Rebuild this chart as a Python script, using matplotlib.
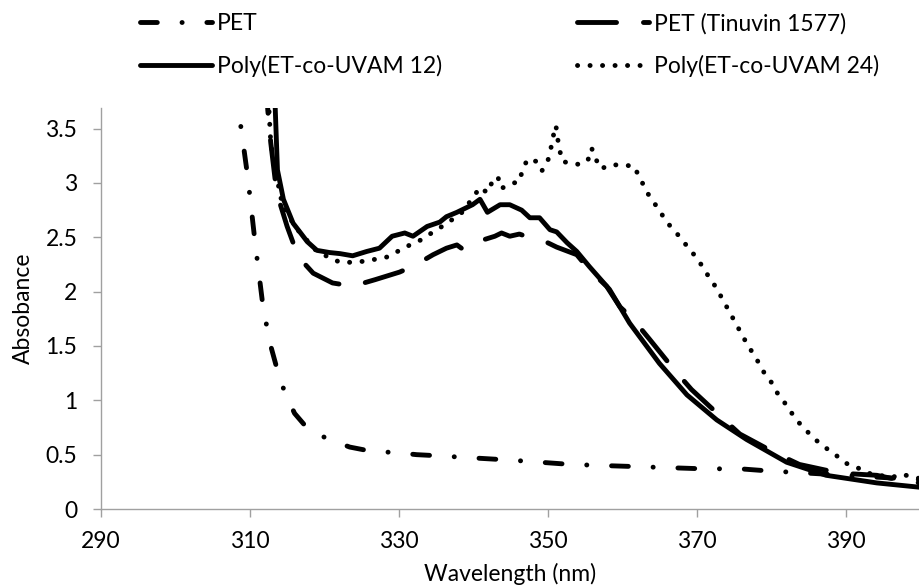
import matplotlib
matplotlib.use("Agg")
import matplotlib.pyplot as plt

plt.rcParams['font.family'] = ['Lato', 'DejaVu Sans']
plt.rcParams['lines.scale_dashes'] = False

# ---- data ----
pet_x = [308.2, 308.5, 309.7, 310.7, 311.8, 312.8, 313.8, 314.7, 316.0, 318.0, 320.7, 323.4,
         326.4, 329.5, 332.4, 335.2, 340.0, 345.0, 353.1, 357.4, 361.9, 366.4, 370.8,
         375.8, 379.7, 385.0, 390.0, 395.0, 400.0]
pet_y = [3.90, 3.66, 3.06, 2.45, 1.84, 1.50, 1.25, 1.07, 0.88, 0.72, 0.64, 0.57,
         0.53, 0.52, 0.50, 0.49, 0.47, 0.45, 0.41, 0.40, 0.39, 0.38, 0.37,
         0.37, 0.35, 0.33, 0.31, 0.29, 0.27]

tin_x = [312.2, 312.4, 312.8, 313.6, 315.0, 316.5, 318.5, 321.1, 323.8, 326.8, 330.1, 332.1,
         334.6, 336.4, 337.8, 338.6, 339.8, 341.5, 342.9, 343.8, 344.9, 346.2, 348.3, 350.0,
         351.2, 353.9, 355.6, 357.9, 359.7, 361.3, 363.7, 367.0, 369.3, 373.4, 375.8, 380.7,
         383.8, 389.2, 394.2, 397.7, 400.0]
tin_y = [4.00, 3.67, 3.37, 2.91, 2.60, 2.32, 2.17, 2.08, 2.05, 2.11, 2.18, 2.24,
         2.34, 2.40, 2.43, 2.39, 2.45, 2.48, 2.51, 2.54, 2.51, 2.53, 2.48, 2.45,
         2.41, 2.34, 2.20, 2.05, 1.86, 1.76, 1.56, 1.28, 1.10, 0.84, 0.69, 0.51,
         0.41, 0.33, 0.31, 0.26, 0.24]

p12_x = [313.0, 313.4, 313.7, 314.5, 315.8, 316.7, 317.7, 319.0, 320.7, 322.1, 323.8, 325.7,
         327.4, 329.1, 330.8, 331.9, 333.8, 335.5, 336.4, 337.8, 339.9, 340.9, 341.9, 343.6,
         344.9, 346.5, 347.6, 348.9, 350.3, 351.2, 352.6, 353.9, 355.6, 358.3, 361.0, 365.0,
         368.7, 372.7, 376.7, 382.1, 387.4, 394.2, 400.0]
p12_y = [4.00, 3.69, 3.12, 2.85, 2.63, 2.55, 2.46, 2.38, 2.36, 2.35, 2.33, 2.37,
         2.40, 2.51, 2.54, 2.51, 2.60, 2.64, 2.69, 2.73, 2.80, 2.85, 2.73, 2.80,
         2.80, 2.75, 2.68, 2.68, 2.57, 2.55, 2.45, 2.37, 2.23, 2.02, 1.71, 1.34,
         1.05, 0.82, 0.64, 0.43, 0.31, 0.24, 0.20]

p24_x = [312.3, 312.8, 313.4, 314.3, 316.0, 319.0, 320.5, 322.1, 323.7, 325.4, 327.0, 328.5,
         330.1, 331.5, 333.1, 334.4, 335.8, 337.1, 338.5, 339.9, 340.9, 341.9, 342.6, 343.3,
         343.7, 344.5, 345.4, 346.2, 346.6, 347.3, 348.4, 349.2, 350.0, 350.4, 350.7, 351.1,
         351.3, 351.6, 351.9, 353.1, 354.4, 355.4, 355.9, 356.4, 357.1, 358.6, 360.1, 361.5,
         362.3, 363.0, 363.8, 364.8, 365.7, 366.6, 367.8, 368.8, 369.9, 370.8, 371.6, 372.6,
         373.4, 374.2, 375.0, 375.8, 376.6, 377.4, 378.3, 379.1, 380.1, 380.9, 381.8, 382.8,
         383.8, 384.9, 386.1, 387.4, 388.8, 390.1, 391.6, 393.0, 394.6, 396.2, 397.5, 400.0]
p24_y = [4.00, 3.37, 3.12, 2.82, 2.60, 2.37, 2.32, 2.27, 2.27, 2.28, 2.30, 2.32,
         2.38, 2.43, 2.48, 2.54, 2.60, 2.66, 2.73, 2.86, 2.96, 2.91, 3.02, 3.06,
         2.95, 2.97, 3.00, 3.01, 3.12, 3.22, 3.20, 3.11, 3.20, 3.31, 3.42, 3.53,
         3.42, 3.31, 3.20, 3.18, 3.17, 3.21, 3.32, 3.23, 3.13, 3.17, 3.16, 3.16,
         3.06, 2.96, 2.86, 2.77, 2.67, 2.59, 2.50, 2.41, 2.32, 2.23, 2.14, 2.04,
         1.94, 1.84, 1.74, 1.64, 1.54, 1.45, 1.35, 1.25, 1.16, 1.06, 0.98, 0.88,
         0.79, 0.71, 0.63, 0.56, 0.49, 0.42, 0.38, 0.33, 0.31, 0.29, 0.32, 0.28]

labels = ["PET", "PET (Tinuvin 1577)", "Poly(ET-co-UVAM 12)", "Poly(ET-co-UVAM 24)"]
x_ticks = [290, 310, 330, 350, 370, 390]
y_ticks = [0, 0.5, 1, 1.5, 2, 2.5, 3, 3.5]
y_tick_labels = ["0", "0.5", "1", "1.5", "2", "2.5", "3", "3.5"]

# ---- figure ----
W, H = 920, 586
fig = plt.figure(figsize=(W / 100, H / 100), dpi=100)
ax = fig.add_axes([101 / W, 1 - 509 / H, (920 - 101) / W, (509 - 108) / H])

LW = 3.5
FS = 16.5
styles = {
    "pet": dict(dashes=(12.1, 17.8, 0.1, 17.8)),
    "tin": dict(dashes=(28.1, 19.4)),
    "p12": dict(linestyle='-'),
    "p24": dict(dashes=(0.1, 8.9)),
}

common = dict(color='black', lw=LW, dash_capstyle='round', solid_capstyle='round',
              solid_joinstyle='round', dash_joinstyle='round')

l1, = ax.plot(pet_x, pet_y, **common, **styles["pet"])
l2, = ax.plot(tin_x, tin_y, **common, **styles["tin"])
l3, = ax.plot(p12_x, p12_y, **common, **styles["p12"])
l4, = ax.plot(p24_x, p24_y, **common, **styles["p24"])

ax.set_xlim(290, 400)
ax.set_ylim(0, 3.69)
ax.set_xticks(x_ticks)
ax.set_xticklabels([str(t) for t in x_ticks])
ax.set_yticks(y_ticks)
ax.set_yticklabels(y_tick_labels)

axis_col = '#A0A0A0'
for s in ['top', 'right']:
    ax.spines[s].set_visible(False)
for s in ['left', 'bottom']:
    ax.spines[s].set_color(axis_col)
    ax.spines[s].set_linewidth(1.0)
ax.tick_params(axis='both', colors=axis_col, length=6, width=1.0, labelcolor='black',
               labelsize=FS)
ax.tick_params(axis='y', pad=11)
ax.tick_params(axis='x', pad=10)

ax.set_xlabel("Wavelength (nm)", fontsize=FS, labelpad=8)
ax.set_ylabel("Absobance", fontsize=FS, labelpad=8)

leg_kw = dict(frameon=False, fontsize=FS, handlelength=3.14, handletextpad=0.22,
              borderpad=0, borderaxespad=0, labelspacing=0.9, loc='upper left')
leg1 = fig.legend([l1, l3], [labels[0], labels[2]], bbox_to_anchor=(140 / W, 1 - 13 / H), **leg_kw)
leg2 = fig.legend([l2, l4], [labels[1], labels[3]], bbox_to_anchor=(577 / W, 1 - 13 / H), **leg_kw)

fig.savefig("out.png", dpi=100)
